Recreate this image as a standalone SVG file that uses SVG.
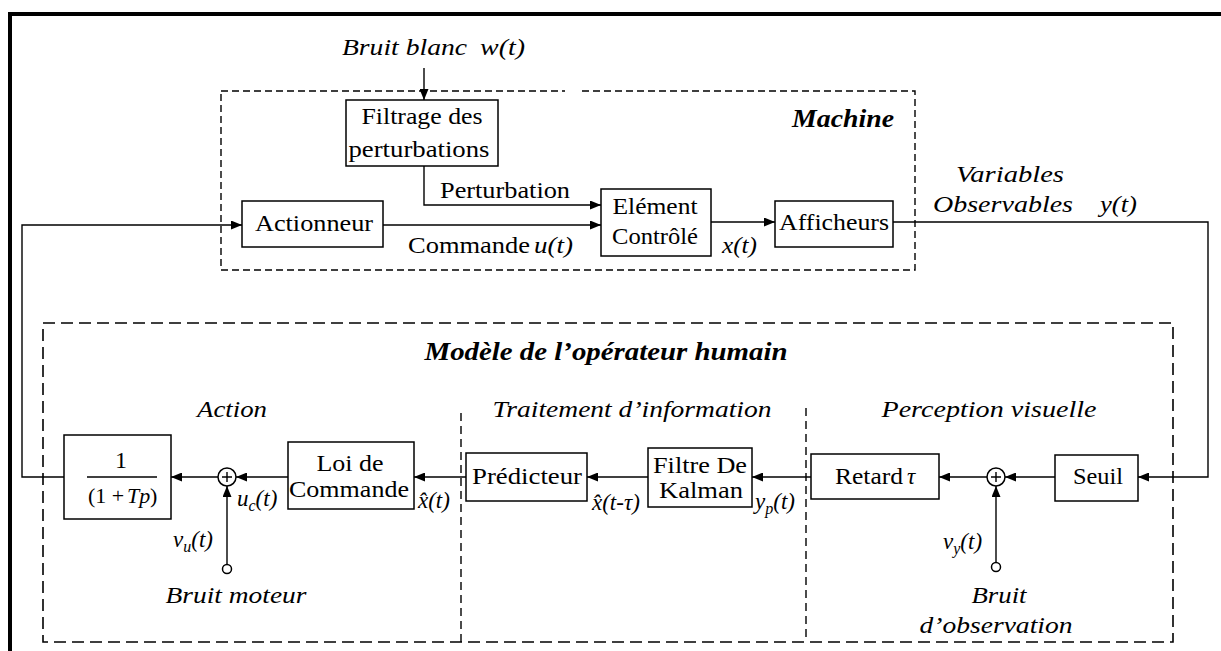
<svg xmlns="http://www.w3.org/2000/svg" width="1221" height="651" viewBox="0 0 1221 651">
<style>
.bx{fill:#fff;stroke:#000;stroke-width:1.5}
.ln{fill:none;stroke:#000;stroke-width:1.4}
.ar{fill:none;stroke:#000;stroke-width:1.4;marker-end:url(#ah)}
.dm{fill:none;stroke:#000;stroke-width:1.4;stroke-dasharray:7 4}
.dh{fill:none;stroke:#000;stroke-width:1.6;stroke-dasharray:12 6}
.dv{fill:none;stroke:#000;stroke-width:1.4;stroke-dasharray:8 5}
text{font-family:"Liberation Serif","Times New Roman",serif;fill:#000}
.r{font-size:24px}
.f{font-size:22px}
.fi{font-size:22px;font-style:italic}
.i{font-size:23px;font-style:italic}
.bi{font-size:25px;font-style:italic;font-weight:bold}
.s{font-size:16px;font-style:italic}
</style>
<defs>
<marker id="ah" markerUnits="userSpaceOnUse" markerWidth="12" markerHeight="9" refX="11" refY="4.5" orient="auto">
<path d="M0,0 L11,4.5 L0,9 z" fill="#000"/>
</marker>
</defs>
<rect width="1221" height="651" fill="#fff"/>
<g id="frame">
<line x1="8" y1="14" x2="1221" y2="14" stroke="#000" stroke-width="4"/>
<line x1="10" y1="12" x2="10" y2="651" stroke="#000" stroke-width="4"/>
</g>
<g id="machine">
<path class="dm" d="M221,91 H565 M582,91 H915 V270 H221 V91"/>
<text class="bi" x="843" y="127" text-anchor="middle" textLength="102" lengthAdjust="spacingAndGlyphs">Machine</text>
</g>
<g id="operator">
<rect class="dh" x="43" y="323" width="1130" height="319"/>
<line class="dv" x1="461" y1="413" x2="461" y2="642"/>
<line class="dv" x1="806" y1="408" x2="806" y2="642"/>
<text class="bi" x="606" y="360" text-anchor="middle" textLength="363" lengthAdjust="spacingAndGlyphs">Modèle de l’opérateur humain</text>
<text class="i" x="232" y="417" text-anchor="middle" textLength="70" lengthAdjust="spacingAndGlyphs">Action</text>
<text class="i" x="632" y="417" text-anchor="middle" textLength="279" lengthAdjust="spacingAndGlyphs">Traitement d’information</text>
<text class="i" x="989" y="417" text-anchor="middle" textLength="215" lengthAdjust="spacingAndGlyphs">Perception visuelle</text>
</g>
<g id="connectors">
<line class="ar" x1="424" y1="68" x2="424" y2="100"/>
<path class="ar" d="M424,166 V205 H601"/>
<line class="ar" x1="383" y1="225" x2="601" y2="225"/>
<path class="ar" d="M64,477 H22 V225 H242"/>
<line class="ar" x1="711" y1="222" x2="775" y2="222"/>
<path class="ar" d="M893,222 H1208 V477 H1138"/>
<line class="ar" x1="1055" y1="477" x2="1005" y2="477"/>
<line class="ar" x1="987" y1="477" x2="939" y2="477"/>
<line class="ar" x1="811" y1="477" x2="752" y2="477"/>
<line class="ar" x1="648" y1="477" x2="587" y2="477"/>
<line class="ar" x1="466" y1="477" x2="414" y2="477"/>
<line class="ar" x1="288" y1="477" x2="236" y2="477"/>
<line class="ar" x1="218" y1="477" x2="171" y2="477"/>
<line class="ar" x1="996" y1="563" x2="996" y2="486"/>
<line class="ar" x1="227" y1="565" x2="227" y2="486"/>
</g>
<g id="bruit-blanc">
<text class="i" x="342" y="55" textLength="125" lengthAdjust="spacingAndGlyphs">Bruit blanc</text>
<text class="i" x="480" y="55" textLength="45" lengthAdjust="spacingAndGlyphs">w(t)</text>
</g>
<g id="filtrage">
<rect class="bx" x="346" y="100" width="152" height="66"/>
<text class="r" x="422" y="124" text-anchor="middle" textLength="121" lengthAdjust="spacingAndGlyphs">Filtrage des</text>
<text class="r" x="419" y="157" text-anchor="middle" textLength="141" lengthAdjust="spacingAndGlyphs">perturbations</text>
</g>
<g id="perturbation-label">
<text class="r" x="505" y="198" text-anchor="middle" textLength="130" lengthAdjust="spacingAndGlyphs">Perturbation</text>
</g>
<g id="actionneur">
<rect class="bx" x="242" y="201" width="141" height="46"/>
<text class="r" x="314" y="231" text-anchor="middle" textLength="118" lengthAdjust="spacingAndGlyphs">Actionneur</text>
</g>
<g id="commande-label">
<text class="r" x="408" y="253" textLength="122" lengthAdjust="spacingAndGlyphs">Commande</text>
<text class="i" x="534" y="253" textLength="39" lengthAdjust="spacingAndGlyphs">u(t)</text>
</g>
<g id="element">
<rect class="bx" x="601" y="189" width="110" height="67"/>
<text class="r" x="655" y="214" text-anchor="middle" textLength="85" lengthAdjust="spacingAndGlyphs">Elément</text>
<text class="r" x="655" y="244" text-anchor="middle" textLength="86" lengthAdjust="spacingAndGlyphs">Contrôlé</text>
</g>
<g id="xt-label">
<text class="i" x="722" y="253" textLength="35" lengthAdjust="spacingAndGlyphs">x(t)</text>
</g>
<g id="afficheurs">
<rect class="bx" x="775" y="201" width="118" height="46"/>
<text class="r" x="834" y="230" text-anchor="middle" textLength="110" lengthAdjust="spacingAndGlyphs">Afficheurs</text>
</g>
<g id="observables">
<text class="i" x="1010" y="182" text-anchor="middle" textLength="108" lengthAdjust="spacingAndGlyphs">Variables</text>
<text class="i" x="1003" y="212" text-anchor="middle" textLength="140" lengthAdjust="spacingAndGlyphs">Observables</text>
<text class="i" x="1100" y="212" textLength="37" lengthAdjust="spacingAndGlyphs">y(t)</text>
</g>
<g id="transfer">
<rect class="bx" x="64" y="435" width="107" height="84"/>
<text class="r" x="121" y="468" text-anchor="middle">1</text>
<line class="ln" x1="87" y1="477" x2="157" y2="477"/>
<text class="f" x="88" y="503">(1 +</text>
<text class="fi" x="127" y="503">Tp</text>
<text class="f" x="150" y="503">)</text>
</g>
<g id="sum-action">
<circle class="bx" cx="227" cy="477" r="9"/>
<path class="ln" d="M222,477 H232 M227,472 V482" stroke-width="1"/>
<circle class="bx" cx="227" cy="569" r="4.5"/>
<text class="i" x="237" y="506">u<tspan class="s" dy="5">c</tspan><tspan dy="-5">(t)</tspan></text>
<text class="i" x="173" y="547">v<tspan class="s" dy="5">u</tspan><tspan dy="-5">(t)</tspan></text>
<text class="i" x="236" y="603" text-anchor="middle" textLength="141" lengthAdjust="spacingAndGlyphs">Bruit moteur</text>
</g>
<g id="loi">
<rect class="bx" x="288" y="442" width="126" height="67"/>
<text class="r" x="350" y="471" text-anchor="middle" textLength="67" lengthAdjust="spacingAndGlyphs">Loi de</text>
<text class="r" x="349" y="497" text-anchor="middle" textLength="120" lengthAdjust="spacingAndGlyphs">Commande</text>
<text class="i" x="418" y="508">x̂(t)</text>
</g>
<g id="predicteur">
<rect class="bx" x="466" y="453" width="121" height="48"/>
<text class="r" x="527" y="484" text-anchor="middle" textLength="110" lengthAdjust="spacingAndGlyphs">Prédicteur</text>
<text class="i" x="592" y="510">x̂(t-τ)</text>
</g>
<g id="kalman">
<rect class="bx" x="648" y="448" width="104" height="59"/>
<text class="r" x="700" y="473" text-anchor="middle" textLength="94" lengthAdjust="spacingAndGlyphs">Filtre De</text>
<text class="r" x="701" y="498" text-anchor="middle" textLength="84" lengthAdjust="spacingAndGlyphs">Kalman</text>
<text class="i" x="755" y="509">y<tspan class="s" dy="5">p</tspan><tspan dy="-5">(t)</tspan></text>
</g>
<g id="retard">
<rect class="bx" x="811" y="454" width="128" height="45"/>
<text class="r" x="835" y="484" textLength="68" lengthAdjust="spacingAndGlyphs">Retard</text>
<text class="i" x="907" y="484">τ</text>
</g>
<g id="sum-perception">
<circle class="bx" cx="996" cy="477" r="9"/>
<path class="ln" d="M991,477 H1001 M996,472 V482" stroke-width="1"/>
<circle class="bx" cx="996" cy="567" r="4.5"/>
<text class="i" x="943" y="549">v<tspan class="s" dy="5">y</tspan><tspan dy="-5">(t)</tspan></text>
<text class="i" x="999" y="603" text-anchor="middle" textLength="55" lengthAdjust="spacingAndGlyphs">Bruit</text>
<text class="i" x="996" y="633" text-anchor="middle" textLength="153" lengthAdjust="spacingAndGlyphs">d’observation</text>
</g>
<g id="seuil">
<rect class="bx" x="1055" y="455" width="83" height="46"/>
<text class="r" x="1098" y="484" text-anchor="middle" textLength="50" lengthAdjust="spacingAndGlyphs">Seuil</text>
</g>
</svg>
